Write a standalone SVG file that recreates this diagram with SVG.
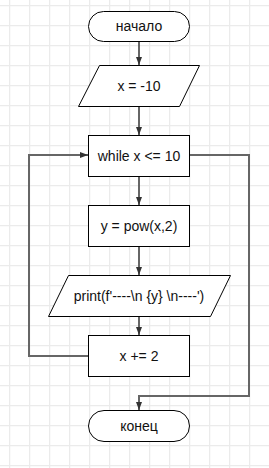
<svg xmlns="http://www.w3.org/2000/svg" width="269" height="468" viewBox="0 0 269 468">
<defs>
<pattern id="grid" x="9" y="5" width="20" height="20" patternUnits="userSpaceOnUse">
<path d="M0.5 0 V20 M0 0.5 H20" fill="none" stroke="#ebebeb" stroke-width="1.5"/>
</pattern>
<marker id="arr" viewBox="0 0 8 8" refX="8" refY="4" markerWidth="8" markerHeight="8" markerUnits="userSpaceOnUse" orient="auto">
<path d="M0 1 L8 4 L0 7 Z" fill="#333"/>
</marker>
<style>
.shape{fill:#fff;stroke:#000;stroke-width:1}
.t{font-family:"Liberation Sans",Arial,sans-serif;font-size:14px;fill:#111;text-anchor:middle;dominant-baseline:central}
.c{fill:none;stroke:#666;stroke-width:2}
</style>
</defs>
<rect width="269" height="468" fill="#fff"/>
<rect width="269" height="468" fill="url(#grid)"/>
<g id="connectors">
<path class="c" d="M139 41 V65" marker-end="url(#arr)"/>
<path class="c" d="M139 106 V135" marker-end="url(#arr)"/>
<path class="c" d="M139 176 V205" marker-end="url(#arr)"/>
<path class="c" d="M139 246 V275" marker-end="url(#arr)"/>
<path class="c" d="M139 316 V335" marker-end="url(#arr)"/>
<path class="c" d="M88 356 H29 V155 H88" marker-end="url(#arr)"/>
<path class="c" d="M189 155 H249 V396 H139 V410" marker-end="url(#arr)"/>
</g>
<g id="start">
<rect class="shape" x="88.5" y="11.5" width="101" height="30" rx="15"/>
<text class="t" x="139" y="26">начало</text>
</g>
<g id="init">
<polygon class="shape" points="99.5,65.5 199.5,65.5 179.5,106.5 78.5,106.5"/>
<text class="t" x="139" y="86">x = -10</text>
</g>
<g id="while">
<rect class="shape" x="88.5" y="135.5" width="101" height="41"/>
<text class="t" x="139" y="156">while x &lt;= 10</text>
</g>
<g id="pow">
<rect class="shape" x="88.5" y="205.5" width="101" height="41"/>
<text class="t" x="139" y="226">y = pow(x,2)</text>
</g>
<g id="print">
<polygon class="shape" points="68.5,275.5 230.5,275.5 210.5,316.5 48.5,316.5"/>
<text class="t" x="139" y="296">print(f'----\n {y} \n----')</text>
</g>
<g id="inc">
<rect class="shape" x="88.5" y="335.5" width="101" height="41"/>
<text class="t" x="139" y="356">x += 2</text>
</g>
<g id="end">
<rect class="shape" x="88.5" y="410.5" width="101" height="31" rx="15.5"/>
<text class="t" x="139" y="426">конец</text>
</g>
</svg>
